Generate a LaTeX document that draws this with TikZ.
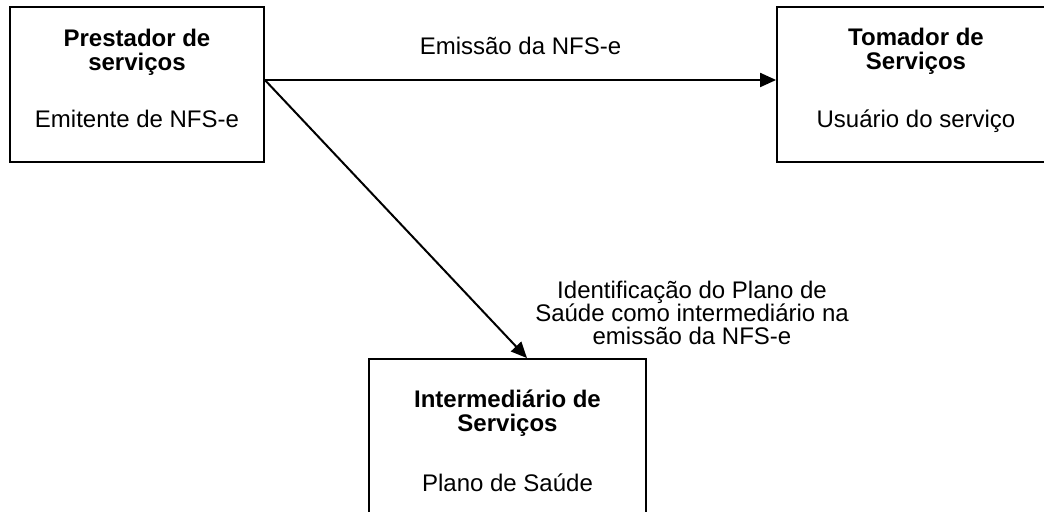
\documentclass[tikz,border=0pt]{standalone}
\usepackage{fontspec}
\setmainfont{Liberation Sans}
\usetikzlibrary{arrows.meta,positioning}
\newcommand{\diagfont}{\fontsize{12pt}{12pt}\selectfont}
\tikzset{
  entity/.style={draw, line width=0.9pt, minimum width=#1, minimum height=77.5pt, inner sep=0pt},
  title/.style={font=\diagfont\bfseries, align=center, anchor=north, inner sep=0pt},
  role/.style={font=\diagfont, anchor=base, inner sep=0pt},
  flow/.style={line width=1pt, -{Triangle[length=8pt,width=7pt]}},
}
\begin{document}
\begin{tikzpicture}[x=0.5pt, y=-0.5pt, font=\diagfont]
  \useasboundingbox (0,0) rectangle (1044,512);
  \node[entity=127pt] (prest) at (137,84.5) {};
  \node[entity=139pt] (tom) at (916,84.5) {};
  \node[entity=138.5pt] (inter) at (507.5,436.5) {};
  \node[title, below=11.4pt of prest.north] (prestTitle) {Prestador de\\serviços};
  \node[role] (prestRole) at ([yshift=-60.5pt]prest.north) {Emitente de NFS-e};
  \node[title, below=10.8pt of tom.north] (tomTitle) {Tomador de\\Serviços};
  \node[role] (tomRole) at ([yshift=-60.5pt]tom.north) {Usuário do serviço};
  \node[title, below=15.8pt of inter.north] (interTitle) {Intermediário de\\Serviços};
  \node[role] (interRole) at ([yshift=-66.5pt]inter.north) {Plano de Saúde};
  \coordinate (src) at ([yshift=2.25pt]prest.east);
  \draw[flow] (src) -- (src -| tom.west) node[midway, above=12pt, inner sep=0pt] (emissao) {Emissão da NFS-e};
  \draw[flow] (src) -- ([xshift=9.75pt]inter.north);
  \node[align=center, anchor=north, inner sep=0pt, font=\fontsize{12pt}{11.5pt}\selectfont] (ident) at (692,281)
    {Identificação do Plano de\\Saúde como intermediário na\\emissão da NFS-e};
\end{tikzpicture}
\end{document}
